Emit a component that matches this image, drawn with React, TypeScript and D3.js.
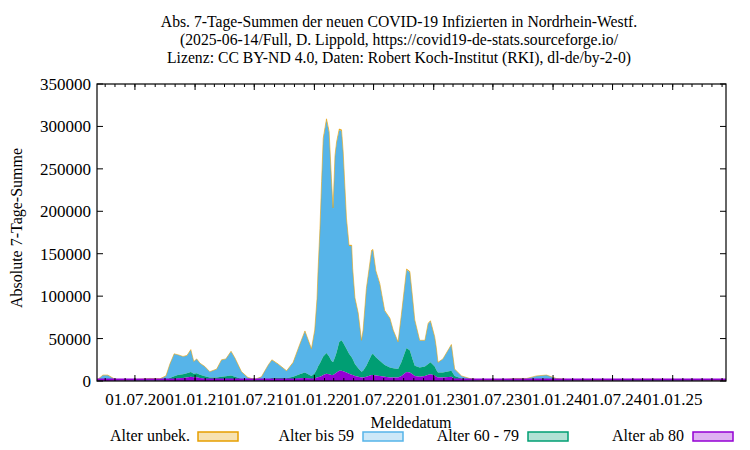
import { useMemo } from "react";
import * as d3 from "d3";

const WIDTH = 750;
const HEIGHT = 450;
const PLOT = { left: 97, right: 726, top: 84, bottom: 381 };
const FONT = "'Liberation Serif', 'DejaVu Serif', serif";

const COLORS = {
  unbek: "#e69f00",
  bis59: "#56b4e9",
  a60: "#009e73",
  ab80: "#9400d3",
};

const TITLE_LINES = [
  "Abs. 7-Tage-Summen der neuen COVID-19 Infizierten in Nordrhein-Westf.",
  "(2025-06-14/Full, D. Lippold, https://covid19-de-stats.sourceforge.io/",
  "Lizenz: CC BY-ND 4.0, Daten: Robert Koch-Institut (RKI), dl-de/by-2-0)",
];

const DATES = [
  // 2020
  "2020-03-10", "2020-03-25", "2020-04-09", "2020-05-01", "2020-05-31", "2020-07-16", "2020-08-16", "2020-09-15",
  "2020-10-04", "2020-10-16", "2020-10-29", "2020-11-09", "2020-11-25", "2020-12-07", "2020-12-19", "2020-12-28",
  // 2021
  "2021-01-06", "2021-01-16", "2021-01-31", "2021-02-15", "2021-03-08", "2021-03-23", "2021-04-05", "2021-04-21",
  "2021-05-03", "2021-05-23", "2021-06-12", "2021-07-03", "2021-07-23", "2021-08-13", "2021-08-24", "2021-09-12",
  "2021-10-08", "2021-10-28", "2021-11-17", "2021-12-03", "2021-12-23",
  // 2022
  "2022-01-02", "2022-01-09", "2022-01-12", "2022-01-18", "2022-01-23", "2022-01-28", "2022-02-07", "2022-02-15",
  "2022-02-22", "2022-02-27", "2022-03-05", "2022-03-10", "2022-03-18", "2022-03-25", "2022-03-30", "2022-04-09",
  "2022-04-17", "2022-04-25", "2022-04-28", "2022-05-05", "2022-05-15", "2022-05-25", "2022-05-30", "2022-06-09",
  "2022-06-25", "2022-06-29", "2022-07-08", "2022-07-20", "2022-08-04", "2022-08-20", "2022-08-30", "2022-09-14",
  "2022-09-24", "2022-10-05", "2022-10-10", "2022-10-20", "2022-10-28", "2022-11-04", "2022-11-19", "2022-12-05",
  "2022-12-15", "2022-12-22",
  // 2023 - 2025
  "2023-01-04", "2023-01-09", "2023-01-14", "2023-01-29", "2023-02-24", "2023-03-06", "2023-03-27", "2023-04-21",
  "2023-05-22", "2023-07-22", "2023-09-06", "2023-10-12", "2023-11-11", "2023-12-12", "2024-01-11", "2024-02-21",
  "2024-05-23", "2024-07-23", "2024-09-22", "2024-11-22", "2025-02-22", "2025-06-13",
];

// Alter ab 80
const AB80 = [
  400, 1000, 1200, 500, 200, 200, 200, 200,
  500, 1200, 2000, 2800, 3500, 4000, 5000, 4500,
  4500, 3500, 2500, 1800, 1500, 1800, 1800, 2000,
  1600, 900, 500, 300, 400, 800, 1100, 1300,
  1300, 2000, 3000, 3500, 2500,
  3000, 4000, 4500, 5000, 6000, 7000, 8500, 8000,
  7000, 7000, 8500, 10000, 12000, 12000, 11500, 10000,
  8500, 7500, 7000, 6000, 5000, 4000, 4000, 5000,
  7000, 7000, 6500, 6000, 5000, 4000, 4000, 4000,
  6000, 9000, 10500, 10000, 8000, 6000, 5000, 6000,
  7500, 8000,
  6500, 5000, 4000, 4000, 5000, 2500, 1200, 700,
  300, 300, 500, 600, 1000, 1200, 600, 300,
  200, 300, 400, 400, 300, 100,
];

// Alter 60 - 79
const A60_79 = [
  600, 1500, 1300, 300, 200, 300, 400, 400,
  1000, 2300, 3500, 4200, 4500, 5000, 5500, 4000,
  4500, 4000, 3000, 2200, 2500, 3200, 3700, 4500,
  3400, 1600, 700, 400, 800, 1700, 2400, 2500,
  1900, 3000, 5000, 6500, 3500,
  6000, 10000, 12500, 16000, 19000, 22000, 24500, 21000,
  17000, 15000, 19500, 24000, 34000, 36000, 33500, 28000,
  23500, 20500, 19000, 14000, 10000, 7000, 8000, 13000,
  24000, 25000, 21500, 18000, 14000, 12000, 11000, 10000,
  16000, 25000, 28500, 26000, 18000, 12000, 11000, 11000,
  12500, 14000,
  10500, 8000, 6000, 6000, 7000, 3500, 1800, 800,
  200, 200, 700, 700, 1500, 1800, 700, 400,
  300, 400, 600, 600, 400, 200,
];

// Alter bis 59
const BIS59 = [
  1000, 4400, 4400, 1200, 600, 1500, 2400, 1900,
  4500, 16400, 26300, 23800, 20800, 20800, 26300, 14400,
  16800, 13400, 11400, 6900, 9900, 19800, 20300, 28300,
  21800, 8400, 2750, 1280, 3750, 16300, 21300, 16000,
  8700, 16800, 34600, 48500, 31700,
  50500, 82400, 111200, 158000, 208800, 255500, 274500, 263500,
  214000, 181000, 237000, 246800, 249500, 246500, 223800, 153000,
  127200, 131200, 106300, 77500, 64600, 36700, 47700, 90500,
  122200, 122200, 101300, 90400, 63500, 57600, 44700, 31700,
  55600, 80300, 92200, 92200, 72400, 53600, 31700, 30700,
  47600, 48500,
  34700, 25800, 11800, 15800, 30700, 7900, 2950, 1480,
  490, 490, 1780, 1680, 3450, 3950, 1680, 790,
  490, 790, 990, 990, 790, 200,
];

// Alter unbek.
const UNBEK = [
  50, 100, 100, 50, 20, 20, 30, 30,
  50, 100, 200, 200, 200, 200, 200, 100,
  200, 100, 100, 100, 100, 200, 200, 200,
  200, 100, 50, 20, 50, 200, 200, 200,
  100, 200, 400, 500, 300,
  500, 600, 800, 1000, 1200, 1500, 1500, 1500,
  1000, 1000, 1000, 1200, 1500, 1500, 1200, 1000,
  800, 800, 700, 500, 400, 300, 300, 500,
  800, 800, 700, 600, 500, 400, 300, 300,
  400, 700, 800, 800, 600, 400, 300, 300,
  400, 500,
  300, 200, 200, 200, 300, 100, 50, 20,
  10, 10, 20, 20, 50, 50, 20, 10,
  10, 10, 10, 10, 10, 0,
];

const Y_TICKS = [0, 50000, 100000, 150000, 200000, 250000, 300000, 350000];

const LEGEND = [
  { key: "unbek", label: "Alter unbek.", textRight: 190, boxX: 198 },
  { key: "bis59", label: "Alter bis 59", textRight: 354, boxX: 363 },
  { key: "a60", label: "Alter 60 - 79", textRight: 519, boxX: 528 },
  { key: "ab80", label: "Alter ab 80", textRight: 684, boxX: 693 },
] as const;

type Row = { date: Date; ab80: number; a60: number; bis59: number; unbek: number };

export default function App() {
  const rows: Row[] = useMemo(() => {
    const parse = d3.timeParse("%Y-%m-%d");
    return DATES.map((d, i) => ({
      date: parse(d) as Date,
      ab80: AB80[i],
      a60: A60_79[i],
      bis59: BIS59[i],
      unbek: UNBEK[i],
    }));
  }, []);

  const x = d3
    .scaleTime()
    .domain([new Date(2020, 2, 7), new Date(2025, 5, 13)])
    .range([PLOT.left, PLOT.right]);
  const y = d3.scaleLinear().domain([0, 350000]).range([PLOT.bottom, PLOT.top]);

  const keys = ["ab80", "a60", "bis59", "unbek"];
  const series = d3.stack<Row>().keys(keys)(rows);

  const area = d3
    .area<d3.SeriesPoint<Row>>()
    .x((d) => x(d.data.date))
    .y0((d) => y(d[0]))
    .y1((d) => y(d[1]));
  const topLine = d3
    .line<d3.SeriesPoint<Row>>()
    .x((d) => x(d.data.date))
    .y((d) => y(d[1]));

  const majorTicks = d3.timeMonth.every(6)!.range(x.domain()[0], x.domain()[1]);
  const minorTicks = d3.timeMonth.every(1)!.range(x.domain()[0], x.domain()[1]);
  const fmt = d3.timeFormat("%d.%m.%y");

  return (
    <svg width={WIDTH} height={HEIGHT} style={{ position: "absolute", left: 0, top: 0, background: "#fff" }} fontFamily={FONT}>
      <rect x="0" y="0" width={WIDTH} height={HEIGHT} fill="#fff" />
      {TITLE_LINES.map((t, i) => (
        <text key={i} x={399} y={27 + i * 18} fontSize="15.7" textAnchor="middle" fill="#000">
          {t}
        </text>
      ))}

      {/* stacked areas, top layer first */}
      {series
        .slice()
        .reverse()
        .map((s) => (
          <path key={s.key} d={area(s) ?? undefined} fill={COLORS[s.key as keyof typeof COLORS]} stroke="none" />
        ))}
      <path d={topLine(series[3]) ?? undefined} fill="none" stroke={COLORS.unbek} strokeOpacity="0.55" strokeWidth="1" />
      <line x1={PLOT.left} x2={PLOT.right} y1={PLOT.bottom - 1.5} y2={PLOT.bottom - 1.5} stroke={COLORS.ab80} strokeWidth="2" />

      {/* frame */}
      <rect x={PLOT.left} y={PLOT.top} width={PLOT.right - PLOT.left} height={PLOT.bottom - PLOT.top} fill="none" stroke="#000" strokeWidth="1.2" />

      {Y_TICKS.map((t) => (
        <g key={t}>
          <line x1={PLOT.left} x2={PLOT.left + 6} y1={y(t)} y2={y(t)} stroke="#000" />
          <line x1={PLOT.right} x2={PLOT.right - 6} y1={y(t)} y2={y(t)} stroke="#000" />
          <text x={91} y={y(t)} dy="0.35em" fontSize="17" textAnchor="end" fill="#000">
            {t}
          </text>
        </g>
      ))}

      {minorTicks.map((t) => (
        <g key={+t}>
          <line x1={x(t)} x2={x(t)} y1={PLOT.bottom} y2={PLOT.bottom - 3} stroke="#000" />
          <line x1={x(t)} x2={x(t)} y1={PLOT.top} y2={PLOT.top + 3} stroke="#000" />
        </g>
      ))}
      {majorTicks.map((t) => (
        <g key={+t}>
          <line x1={x(t)} x2={x(t)} y1={PLOT.bottom} y2={PLOT.bottom - 6} stroke="#000" />
          <line x1={x(t)} x2={x(t)} y1={PLOT.top} y2={PLOT.top + 6} stroke="#000" />
          <text x={x(t)} y={405} fontSize="17" textAnchor="middle" fill="#000">
            {fmt(t)}
          </text>
        </g>
      ))}

      <text x={411} y={428} fontSize="16" textAnchor="middle" fill="#000">
        Meldedatum
      </text>
      <text x={0} y={0} fontSize="16" textAnchor="middle" fill="#000" transform="translate(22 228) rotate(-90)">
        Absolute 7-Tage-Summe
      </text>

      {LEGEND.map((l) => (
        <g key={l.key}>
          <text x={l.textRight} y={441} fontSize="16" textAnchor="end" fill="#000">
            {l.label}
          </text>
          <rect x={l.boxX} y={432} width={40} height={9} fill={COLORS[l.key]} fillOpacity="0.3" stroke={COLORS[l.key]} strokeWidth="1.5" />
        </g>
      ))}
    </svg>
  );
}
